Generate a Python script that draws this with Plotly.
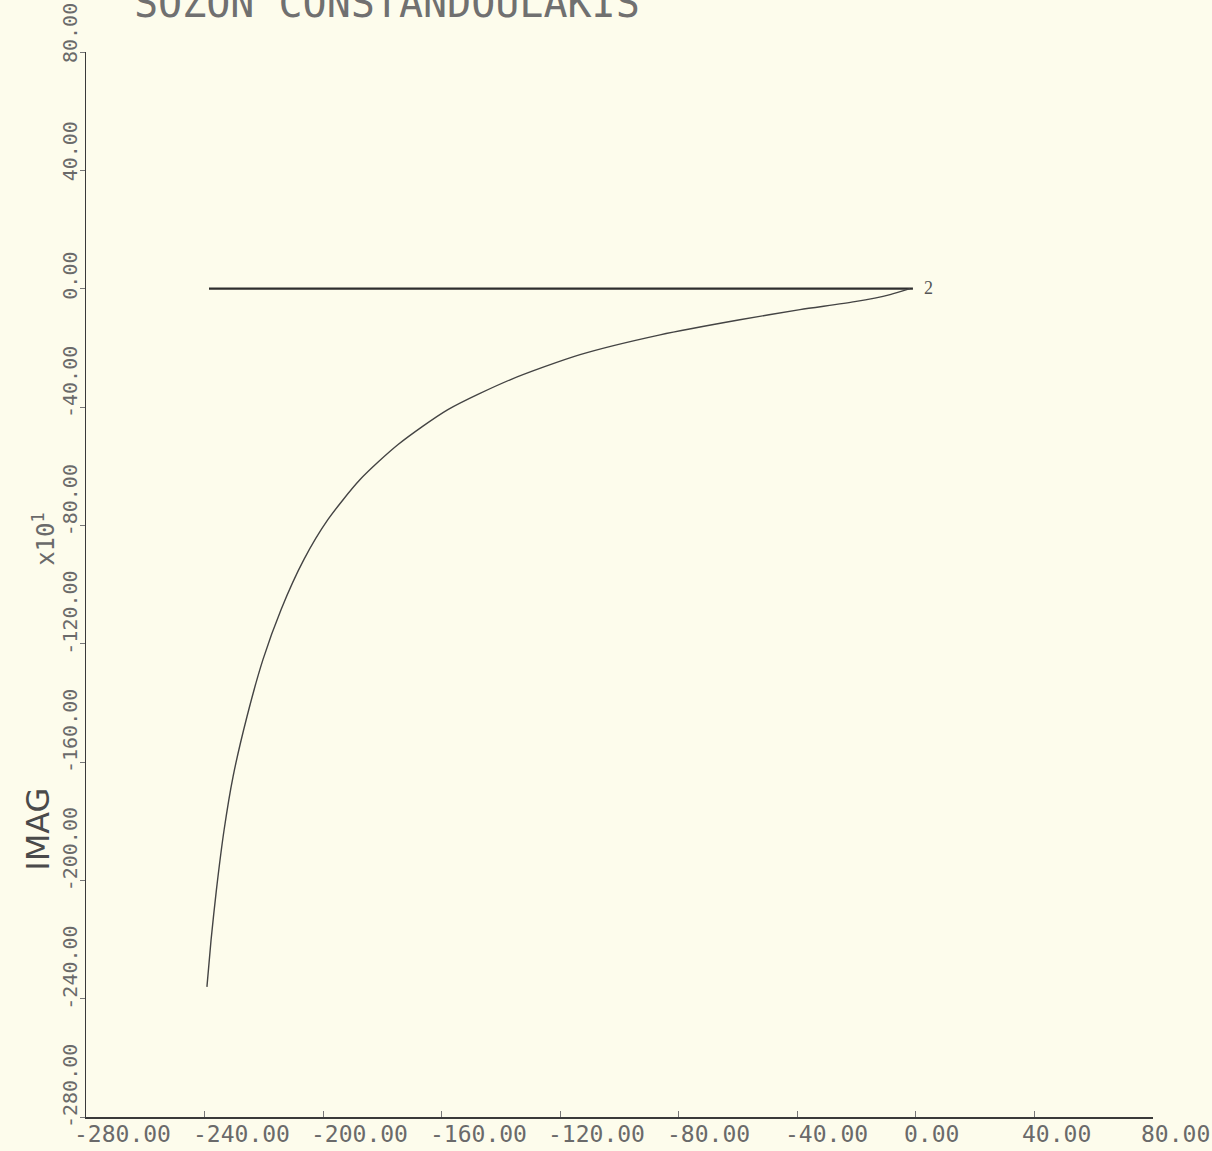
import plotly.graph_objects as go

# ---- data ----
x_ticks = [-280, -240, -200, -160, -120, -80, -40, 0, 40, 80]
x_tick_labels = ["-280.00", "-240.00", "-200.00", "-160.00", "-120.00",
                 "-80.00", "-40.00", "0.00", "40.00", "80.00"]
y_ticks = [80, 40, 0, -40, -80, -120, -160, -200, -240, -280]
y_tick_labels = ["80.00", "40.00", "0.00", "-40.00", "-80.00", "-120.00",
                 "-160.00", "-200.00", "-240.00", "-280.00"]

# locus curve
curve_x = [-239.2, -237.8, -236.0, -233.4, -230.4, -225.7, -220.3, -214.2,
           -206.5, -198.4, -187.6, -174.7, -157.9, -136.9, -113.3, -86.3,
           -59.4, -39.1, -20.6, -8.7, -2.0]
curve_y = [-236.0, -220.1, -203.2, -182.9, -165.0, -144.7, -125.4, -108.5,
           -91.6, -78.1, -64.6, -52.7, -40.9, -30.8, -22.3, -15.6,
           -10.5, -7.1, -4.4, -2.0, 0.0]

# horizontal segment on the real axis
line_x = [-238.5, -1.0]
line_y = [0.0, 0.0]

title_text = "SOZON CONSTANDOULAKIS"
y_title = "IMAG"
scale_note = "x10<sup>1</sup>"
end_mark = "2"

BG = "#fdfcec"
INK = "#3a3a3a"
TXT = "#6a6a6a"
MONO = "DejaVu Sans Mono"

fig = go.Figure()
fig.add_trace(go.Scatter(x=line_x, y=line_y, mode="lines",
                         line=dict(color="#2e2e2e", width=2.2),
                         hoverinfo="skip", showlegend=False))
fig.add_trace(go.Scatter(x=curve_x, y=curve_y, mode="lines",
                         line=dict(color="#444444", width=1.4, shape="spline",
                                   smoothing=0.7),
                         hoverinfo="skip", showlegend=False))

annotations = []
# x tick labels (left aligned, starting just left of the tick)
for v, t in zip(x_ticks, x_tick_labels):
    annotations.append(dict(x=v, y=0, xref="x", yref="paper", text=t,
                            showarrow=False, xanchor="left", yanchor="top",
                            xshift=-14, yshift=-2,
                            font=dict(family=MONO, size=23, color=TXT)))
# y tick labels (rotated, reading bottom to top, starting just below the tick)
for v, t in zip(y_ticks, y_tick_labels):
    annotations.append(dict(x=0, y=v, xref="paper", yref="y", text=t,
                            showarrow=False, textangle=-90,
                            xanchor="center", yanchor="bottom",
                            xshift=-16, yshift=-13,
                            font=dict(family=MONO, size=20, color=TXT)))
# title (partly cut at the top edge)
annotations.append(dict(x=0, y=1, xref="paper", yref="paper", text=title_text,
                        showarrow=False, xanchor="left", yanchor="middle",
                        xshift=46, yshift=49,
                        font=dict(family=MONO, size=40, color="#707070")))
# y axis title
annotations.append(dict(x=0, y=-182.9, xref="paper", yref="y", text=y_title,
                        showarrow=False, textangle=-90,
                        xanchor="center", yanchor="middle", xshift=-48,
                        font=dict(family="DejaVu Sans", size=32, color="#4a4a4a")))
# scale multiplier
annotations.append(dict(x=0, y=-84.9, xref="paper", yref="y", text=scale_note,
                        showarrow=False, textangle=-90,
                        xanchor="center", yanchor="middle", xshift=-42,
                        font=dict(family=MONO, size=24, color=TXT)))
# end marker
annotations.append(dict(x=2.0, y=0, xref="x", yref="y", text=end_mark,
                        showarrow=False, xanchor="left", yanchor="middle",
                        yshift=1,
                        font=dict(family="Liberation Serif", size=18, color="#555555")))

fig.update_layout(
    width=1212, height=1151,
    margin=dict(l=86, r=59, t=52, b=34),
    paper_bgcolor=BG, plot_bgcolor=BG,
    annotations=annotations,
    xaxis=dict(range=[-280, 80], tickvals=x_ticks, showticklabels=False,
               showgrid=False, zeroline=False, showline=True,
               linecolor=INK, linewidth=1.6, ticks="inside", ticklen=6,
               tickcolor="#777777", tickwidth=1),
    yaxis=dict(range=[-280, 80], tickvals=y_ticks, showticklabels=False,
               showgrid=False, zeroline=False, showline=True,
               linecolor=INK, linewidth=1.3, ticks="outside", ticklen=5,
               tickcolor="#777777", tickwidth=1),
)

fig.write_html(
    "out.html",
    config={"displayModeBar": False},
    post_script="document.body.style.margin='0px';"
                "document.body.style.overflow='hidden';"
                "document.body.style.background='#fdfcec';",
)
